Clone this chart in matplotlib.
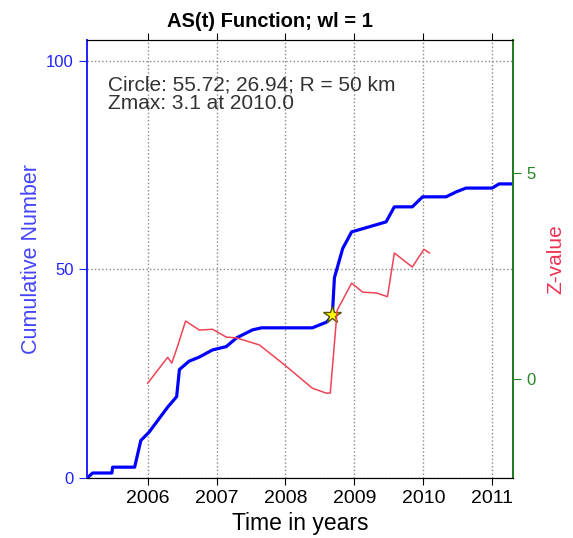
import numpy as np
import matplotlib.pyplot as plt

plt.rcParams['font.family'] = ['Liberation Sans', 'DejaVu Sans']

# cumulative number of events vs time
cum_t = [2005.12, 2005.2, 2005.48, 2005.49, 2005.81, 2005.9, 2006.02, 2006.29, 2006.42,
         2006.46, 2006.6, 2006.75, 2006.94, 2007.14, 2007.29, 2007.52, 2007.65, 2008.39,
         2008.6, 2008.68, 2008.71, 2008.83, 2008.96, 2009.17, 2009.46, 2009.58, 2009.84,
         2009.99, 2010.33, 2010.48, 2010.62, 2011.0, 2011.1, 2011.3]
cum_n = [0, 1.2, 1.2, 2.6, 2.6, 9, 11, 17, 19.5,
         26, 28, 29, 30.7, 31.5, 33.6, 35.5, 36, 36,
         37.4, 39, 48, 55, 59, 60, 61.4, 65, 65,
         67.4, 67.4, 68.6, 69.5, 69.5, 70.5, 70.5]

# z-value (AS function)
z_t = [2006.0, 2006.29, 2006.35, 2006.43, 2006.55, 2006.75, 2006.94, 2007.14, 2007.29,
       2007.62, 2007.99, 2008.39, 2008.59, 2008.65, 2008.75, 2008.96, 2009.12, 2009.32,
       2009.48, 2009.58, 2009.84, 2010.01, 2010.09]
z_val = [-0.1, 0.53, 0.39, 0.78, 1.41, 1.19, 1.21, 1.02, 1.0,
         0.83, 0.34, -0.22, -0.34, -0.34, 1.67, 2.33, 2.11, 2.09,
         2.0, 3.06, 2.72, 3.15, 3.06]

star_t, star_n = 2008.68, 39
years = [2006, 2007, 2008, 2009, 2010, 2011]

fig = plt.figure(figsize=(5.73, 5.38), dpi=100)
ax = fig.add_axes([0.152, 0.1115, 0.743, 0.8142])
ax2 = ax.twinx()

ax.plot(cum_t, cum_n, color='#0000ff', lw=2.3, zorder=3)
ax.plot(star_t, star_n, marker='*', ms=13, mfc='#ffff00', mec='#555500', zorder=4)
ax2.plot(z_t, z_val, color='#ee4455', lw=1.1)

ax.set_xlim(2005.12, 2011.3)
ax.set_ylim(0, 105)
ax2.set_ylim(-2.4, 8.23)

ax.set_xticks(years)
ax.set_yticks([0, 50, 100])
ax2.set_yticks([0, 5])
ax.grid(True, color='#888888', ls=':', lw=1)

ax.tick_params(axis='x', direction='out', top=True, labelsize=14, length=5)
ax.tick_params(axis='y', direction='out', colors='#2222ff', labelsize=12, length=6)
ax2.tick_params(axis='y', direction='out', colors='#228822', labelsize=12, length=6)

ax.spines['left'].set_color('#2222ff')
ax2.spines['left'].set_color('#2222ff')
ax2.spines['right'].set_color('#228822')
for a in (ax, ax2):
    a.spines['left'].set_linewidth(1.3)
    a.spines['right'].set_linewidth(1.3)

ax.set_xlabel('Time in years', fontsize=16.5, labelpad=4)
ax.set_ylabel('Cumulative Number', color='#4444ff', fontsize=15.5, labelpad=3)
ax2.set_ylabel('Z-value', color='#ee3355', fontsize=15, labelpad=8)
ax.set_title('AS(t) Function; wl = 1', fontsize=14.5, fontweight='bold', pad=9, x=0.43)

ax.text(2005.42, 96.5, 'Circle: 55.72; 26.94; R = 50 km\nZmax: 3.1 at 2010.0',
        fontsize=15, color='#333333', va='top', linespacing=0.95)

fig.savefig('out.png', dpi=100)
